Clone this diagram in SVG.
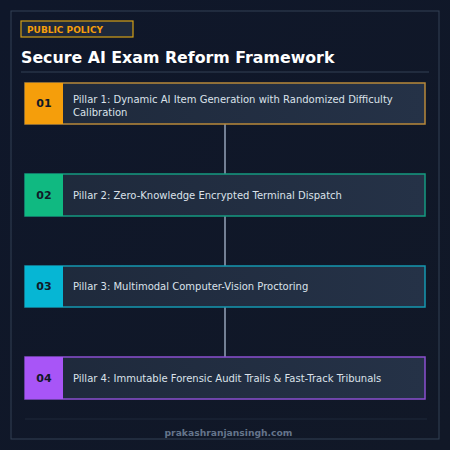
<svg xmlns="http://www.w3.org/2000/svg" width="450" height="450" viewBox="0 0 450 450">
  <defs>
    <linearGradient id="bg" x1="0" y1="0" x2="1" y2="1">
      <stop offset="0" stop-color="#0f172a"/>
      <stop offset="1" stop-color="#111827"/>
    </linearGradient>
    <linearGradient id="card" x1="0" y1="0" x2="1" y2="0">
      <stop offset="0" stop-color="#1e293b"/>
      <stop offset="1" stop-color="#253247"/>
    </linearGradient>
  </defs>
  <style>
    .card { fill: url(#card); stroke-width: 1.5; }
    .num { font-family: "DejaVu Sans", sans-serif; font-weight: bold; font-size: 11px; fill: #111827; text-anchor: middle; }
    .lbl { font-family: "DejaVu Sans", sans-serif; font-size: 10px; fill: #dbe2ea; }
    .conn { stroke: #94a3b8; stroke-width: 1.5; fill: none; }
  </style>
  <rect x="0" y="0" width="450" height="450" fill="url(#bg)"/>
  <rect x="11" y="11" width="428" height="428" fill="none" stroke="#334155" stroke-width="1"/>

  <g id="header">
    <rect x="21" y="21" width="112" height="16" fill="#1e293b" stroke="#d4a017" stroke-width="1.2"/>
    <text x="27" y="32.5" font-family="DejaVu Sans, sans-serif" font-weight="bold" font-size="9" fill="#f59e0b">PUBLIC POLICY</text>
    <text x="21" y="63" font-family="DejaVu Sans, sans-serif" font-weight="bold" font-size="15.8" fill="#ffffff">Secure AI Exam Reform Framework</text>
    <line x1="21" y1="72" x2="429" y2="72" stroke="#334155" stroke-width="1"/>
  </g>

  <g id="connectors">
    <line class="conn" x1="225" y1="124" x2="225" y2="174"/>
    <line class="conn" x1="225" y1="216" x2="225" y2="266"/>
    <line class="conn" x1="225" y1="307" x2="225" y2="357"/>
  </g>

  <g id="pillar1">
    <rect class="card" x="25" y="83" width="400" height="41" stroke="#b8893a"/>
    <rect x="25" y="83" width="38" height="41" fill="#f59e0b"/>
    <text class="num" x="44" y="107">01</text>
    <text class="lbl" x="73" y="102.5">Pillar 1: Dynamic AI Item Generation with Randomized Difficulty</text>
    <text class="lbl" x="73" y="116">Calibration</text>
  </g>

  <g id="pillar2">
    <rect class="card" x="25" y="174" width="400" height="42" stroke="#159a80"/>
    <rect x="25" y="174" width="38" height="42" fill="#10b981"/>
    <text class="num" x="44" y="198.5">02</text>
    <text class="lbl" x="73" y="198.5">Pillar 2: Zero-Knowledge Encrypted Terminal Dispatch</text>
  </g>

  <g id="pillar3">
    <rect class="card" x="25" y="266" width="400" height="41" stroke="#1598b0"/>
    <rect x="25" y="266" width="38" height="41" fill="#06b6d4"/>
    <text class="num" x="44" y="290">03</text>
    <text class="lbl" x="73" y="290">Pillar 3: Multimodal Computer-Vision Proctoring</text>
  </g>

  <g id="pillar4">
    <rect class="card" x="25" y="357" width="400" height="42" stroke="#8a4fd0"/>
    <rect x="25" y="357" width="38" height="42" fill="#a855f7"/>
    <text class="num" x="44" y="381.5">04</text>
    <text class="lbl" x="73" y="381.5">Pillar 4: Immutable Forensic Audit Trails &amp; Fast-Track Tribunals</text>
  </g>

  <g id="footer">
    <line x1="25" y1="419" x2="427" y2="419" stroke="#1e293b" stroke-width="1"/>
    <text x="228.5" y="436" text-anchor="middle" font-family="DejaVu Sans, sans-serif" font-weight="bold" font-size="9.2" fill="#64748b">prakashranjansingh.com</text>
  </g>
</svg>
